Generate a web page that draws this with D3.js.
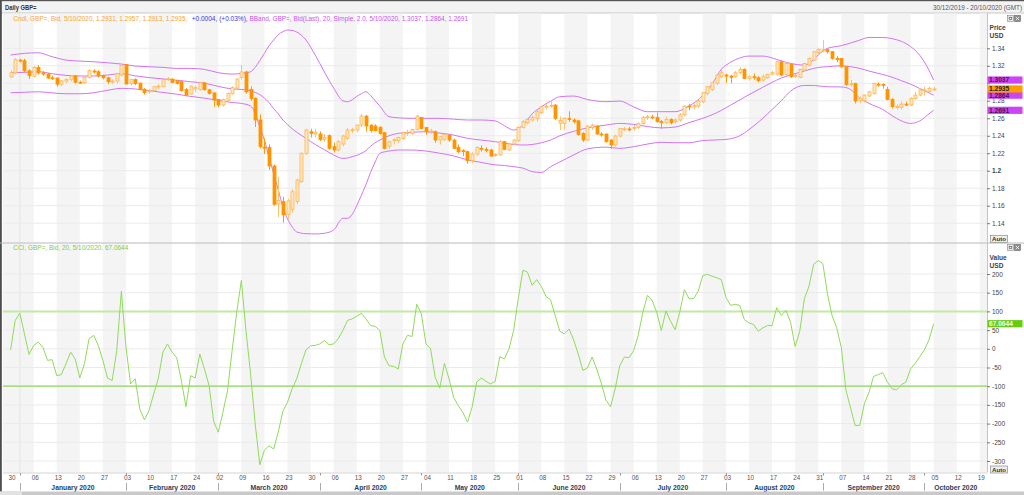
<!DOCTYPE html>
<html><head><meta charset="utf-8">
<script src="https://cdn.jsdelivr.net/npm/d3@7"></script>
<style>html,body{margin:0;padding:0;background:#fff;overflow:hidden}svg{display:block;font-family:"Liberation Sans",Arial,sans-serif}</style>
</head><body><svg id="c" width="1024" height="495"></svg>
<script>
// ---------- DATA (trading-day index 0 = Mon 30/12/2019, weekdays only) ----------
const candleOpen = [1.3072,1.3120,1.3265,1.3258,1.3143,1.3080,1.3180,1.3120,1.3105,1.3062,1.3060,1.2990,1.3025,1.3045,1.3083,1.3012,1.3006,1.3067,1.3140,1.3132,1.3090,1.3063,1.3018,1.3025,1.3095,1.3215,1.2995,1.3042,1.3000,1.2930,1.2905,1.2915,1.2961,1.2965,1.3045,1.3045,1.3029,1.3018,1.2930,1.2877,1.2935,1.2930,1.3005,1.2925,1.2890,1.2816,1.2751,1.2808,1.2884,1.2945,1.3067,1.3130,1.2930,1.2827,1.2580,1.2270,1.2267,1.2054,1.1620,1.1646,1.1500,1.1560,1.1650,1.1875,1.2199,1.2446,1.2420,1.2420,1.2360,1.2401,1.2275,1.2237,1.2305,1.2370,1.2458,1.2465,1.2522,1.2625,1.2522,1.2511,1.2496,1.2435,1.2282,1.2343,1.2343,1.2370,1.2430,1.2427,1.2473,1.2610,1.2496,1.2446,1.2446,1.2351,1.2359,1.2408,1.2351,1.2267,1.2230,1.2218,1.2115,1.2191,1.2256,1.2244,1.2237,1.2180,1.2180,1.2332,1.2237,1.2305,1.2343,1.2496,1.2549,1.2580,1.2599,1.2663,1.2730,1.2740,1.2751,1.2545,1.2541,1.2599,1.2580,1.2570,1.2427,1.2351,1.2496,1.2511,1.2420,1.2420,1.2351,1.2294,1.2397,1.2480,1.2478,1.2484,1.2496,1.2541,1.2610,1.2615,1.2610,1.2561,1.2549,1.2587,1.2561,1.2580,1.2640,1.2740,1.2730,1.2740,1.2789,1.2884,1.2930,1.2999,1.3075,1.3094,1.3083,1.3075,1.3121,1.3159,1.3056,1.3075,1.3063,1.3037,1.3063,1.3105,1.3105,1.3246,1.3102,1.3220,1.3080,1.3067,1.3151,1.3208,1.3265,1.3349,1.3372,1.3385,1.3361,1.3284,1.3284,1.3189,1.2987,1.2999,1.2801,1.2801,1.2854,1.2884,1.2990,1.2985,1.2930,1.2816,1.2732,1.2724,1.2762,1.2751,1.2827,1.2865,1.2923,1.2903,1.2931];
const candleHigh = [1.3145,1.3285,1.3280,1.3280,1.3160,1.3195,1.3210,1.3140,1.3120,1.3085,1.3065,1.3035,1.3055,1.3090,1.3095,1.3030,1.3075,1.3155,1.3160,1.3150,1.3100,1.3075,1.3045,1.3120,1.3215,1.3220,1.3050,1.3055,1.3010,1.2945,1.2935,1.2970,1.2990,1.3060,1.3070,1.3060,1.3040,1.3025,1.2945,1.2975,1.2975,1.3015,1.3012,1.2935,1.2895,1.2820,1.2825,1.2895,1.2965,1.3060,1.3210,1.3140,1.2965,1.2840,1.2645,1.2370,1.2300,1.2070,1.1930,1.1700,1.1680,1.1790,1.1910,1.2210,1.2480,1.2480,1.2480,1.2450,1.2420,1.2415,1.2320,1.2350,1.2410,1.2490,1.2490,1.2530,1.2650,1.2635,1.2530,1.2530,1.2510,1.2440,1.2345,1.2370,1.2390,1.2440,1.2470,1.2480,1.2640,1.2615,1.2500,1.2480,1.2460,1.2400,1.2430,1.2420,1.2365,1.2300,1.2245,1.2230,1.2210,1.2280,1.2290,1.2270,1.2250,1.2200,1.2350,1.2340,1.2320,1.2360,1.2510,1.2580,1.2600,1.2630,1.2690,1.2745,1.2760,1.2810,1.2760,1.2620,1.2610,1.2680,1.2600,1.2580,1.2440,1.2520,1.2540,1.2520,1.2440,1.2425,1.2360,1.2410,1.2490,1.2500,1.2500,1.2520,1.2550,1.2625,1.2640,1.2640,1.2665,1.2580,1.2620,1.2600,1.2600,1.2660,1.2750,1.2765,1.2770,1.2810,1.2900,1.2970,1.3010,1.3100,1.3170,1.3110,1.3095,1.3140,1.3185,1.3170,1.3090,1.3110,1.3080,1.3100,1.3110,1.3140,1.3260,1.3265,1.3240,1.3225,1.3110,1.3165,1.3235,1.3295,1.3370,1.3400,1.3494,1.3400,1.3370,1.3310,1.3290,1.3195,1.3040,1.3005,1.2850,1.2870,1.2910,1.3005,1.3010,1.3000,1.2960,1.2830,1.2760,1.2790,1.2790,1.2840,1.2900,1.2940,1.2960,1.2960,1.2957];
const candleLow = [1.3065,1.3105,1.3240,1.3125,1.3050,1.3070,1.3100,1.3085,1.3050,1.3040,1.2960,1.2970,1.3000,1.3020,1.2995,1.2995,1.2990,1.3055,1.3110,1.3065,1.3045,1.2990,1.2995,1.2995,1.3080,1.2985,1.2975,1.2980,1.2920,1.2870,1.2880,1.2905,1.2935,1.2955,1.3030,1.3000,1.2985,1.2905,1.2850,1.2870,1.2900,1.2915,1.2920,1.2870,1.2730,1.2725,1.2735,1.2790,1.2870,1.2935,1.3040,1.2880,1.2800,1.2500,1.2255,1.2190,1.2010,1.1600,1.1470,1.1406,1.1450,1.1520,1.1620,1.1860,1.2180,1.2380,1.2380,1.2340,1.2330,1.2240,1.2210,1.2220,1.2280,1.2350,1.2430,1.2440,1.2500,1.2446,1.2440,1.2450,1.2410,1.2245,1.2250,1.2300,1.2320,1.2355,1.2400,1.2410,1.2460,1.2470,1.2410,1.2420,1.2320,1.2300,1.2340,1.2330,1.2250,1.2200,1.2165,1.2080,1.2085,1.2170,1.2220,1.2210,1.2160,1.2160,1.2170,1.2235,1.2225,1.2290,1.2330,1.2480,1.2530,1.2560,1.2560,1.2650,1.2700,1.2720,1.2580,1.2465,1.2470,1.2560,1.2540,1.2400,1.2330,1.2340,1.2470,1.2410,1.2390,1.2320,1.2250,1.2280,1.2380,1.2450,1.2450,1.2460,1.2480,1.2530,1.2580,1.2590,1.2550,1.2480,1.2530,1.2530,1.2540,1.2560,1.2620,1.2690,1.2700,1.2720,1.2770,1.2860,1.2910,1.2980,1.3060,1.3005,1.2999,1.3060,1.3100,1.3050,1.3030,1.3040,1.3010,1.3020,1.3050,1.3090,1.3090,1.3080,1.3085,1.3060,1.3060,1.3060,1.3140,1.3190,1.3250,1.3330,1.3355,1.3340,1.3270,1.3240,1.3180,1.2970,1.2960,1.2770,1.2770,1.2780,1.2840,1.2870,1.2960,1.2940,1.2805,1.2710,1.2700,1.2700,1.2740,1.2740,1.2810,1.2850,1.2860,1.2880,1.2913];
const candleClose = [1.3120,1.3270,1.3258,1.3143,1.3086,1.3182,1.3118,1.3105,1.3060,1.3060,1.2990,1.3028,1.3045,1.3083,1.3012,1.3010,1.3067,1.3148,1.3132,1.3083,1.3063,1.3018,1.3025,1.3113,1.3205,1.2992,1.3042,1.2998,1.2930,1.2892,1.2915,1.2961,1.2968,1.3044,1.3052,1.3010,1.2999,1.2915,1.2865,1.2968,1.2950,1.3005,1.2925,1.2885,1.2808,1.2751,1.2816,1.2884,1.2950,1.3050,1.3130,1.2903,1.2827,1.2580,1.2275,1.2265,1.2054,1.1616,1.1660,1.1494,1.1655,1.1760,1.1894,1.2199,1.2465,1.2425,1.2440,1.2359,1.2378,1.2256,1.2237,1.2332,1.2397,1.2465,1.2470,1.2522,1.2625,1.2511,1.2458,1.2458,1.2427,1.2256,1.2332,1.2355,1.2381,1.2435,1.2435,1.2473,1.2625,1.2484,1.2446,1.2456,1.2351,1.2389,1.2416,1.2351,1.2256,1.2218,1.2225,1.2115,1.2191,1.2267,1.2245,1.2235,1.2168,1.2185,1.2332,1.2244,1.2305,1.2351,1.2496,1.2561,1.2587,1.2610,1.2675,1.2732,1.2738,1.2748,1.2599,1.2575,1.2599,1.2585,1.2561,1.2416,1.2351,1.2511,1.2522,1.2420,1.2410,1.2332,1.2294,1.2397,1.2484,1.2480,1.2470,1.2496,1.2541,1.2610,1.2618,1.2612,1.2561,1.2552,1.2587,1.2549,1.2580,1.2640,1.2740,1.2730,1.2745,1.2801,1.2892,1.2961,1.3006,1.3094,1.3121,1.3083,1.3067,1.3121,1.3159,1.3056,1.3075,1.3067,1.3029,1.3075,1.3102,1.3121,1.3246,1.3094,1.3227,1.3075,1.3092,1.3159,1.3227,1.3284,1.3361,1.3387,1.3385,1.3361,1.3284,1.3270,1.3189,1.2987,1.2995,1.2797,1.2827,1.2865,1.2903,1.2999,1.2985,1.2980,1.2816,1.2732,1.2736,1.2762,1.2755,1.2827,1.2865,1.2923,1.2925,1.2942,1.2935];

const bandIdx    = [0,3,6,9,12,15,18,21,24,27,30,33,36,39,42,45,48,50,52,53,54,55,56,57,58,59,60,61,62,64,66,68,70,72,73,74,75,76,77,78,79,80,82,84,87,90,93,96,99,102,105,107,109,111,113,115,117,119,122,125,129,132,135,138,141,144,147,150,152,154,156,158,160,163,165,167,169,172,174,175,177,180,182,184,186,189,191,193,195,197,199,200];
const bandUpper  = [1.3323,1.3342,1.3349,1.3304,1.3265,1.3254,1.3246,1.3235,1.3220,1.3197,1.3189,1.3182,1.3170,1.3170,1.3159,1.3121,1.3105,1.3113,1.3132,1.3182,1.3260,1.3342,1.3430,1.3494,1.3555,1.3590,1.3609,1.3605,1.3586,1.3495,1.3323,1.3129,1.2946,1.2800,1.2789,1.2810,1.2850,1.2880,1.2903,1.2860,1.2800,1.2740,1.2618,1.2605,1.2599,1.2599,1.2599,1.2590,1.2580,1.2580,1.2570,1.2515,1.2465,1.2520,1.2650,1.2730,1.2795,1.2846,1.2854,1.2815,1.2789,1.2797,1.2730,1.2675,1.2675,1.2675,1.2740,1.2860,1.2990,1.3160,1.3240,1.3290,1.3311,1.3311,1.3290,1.3255,1.3227,1.3208,1.3270,1.3323,1.3399,1.3430,1.3460,1.3494,1.3524,1.3524,1.3510,1.3480,1.3420,1.3320,1.3150,1.3037];
const bandMiddle = [1.3120,1.3125,1.3132,1.3110,1.3090,1.3083,1.3083,1.3094,1.3110,1.3085,1.3065,1.3050,1.3035,1.3018,1.3000,1.2965,1.2935,1.2930,1.2915,1.2895,1.2870,1.2830,1.2780,1.2710,1.2650,1.2580,1.2528,1.2480,1.2440,1.2370,1.2300,1.2240,1.2180,1.2141,1.2145,1.2160,1.2175,1.2199,1.2230,1.2280,1.2320,1.2351,1.2400,1.2427,1.2440,1.2446,1.2430,1.2408,1.2370,1.2350,1.2332,1.2315,1.2300,1.2294,1.2300,1.2320,1.2351,1.2400,1.2450,1.2490,1.2522,1.2541,1.2530,1.2505,1.2490,1.2500,1.2550,1.2600,1.2640,1.2690,1.2750,1.2810,1.2870,1.2955,1.3010,1.3060,1.3095,1.3140,1.3170,1.3180,1.3190,1.3200,1.3190,1.3170,1.3140,1.3100,1.3070,1.3030,1.2990,1.2940,1.2890,1.2864];
const bandLower  = [1.2892,1.2897,1.2903,1.2890,1.2880,1.2880,1.2892,1.2920,1.2942,1.2935,1.2915,1.2895,1.2875,1.2850,1.2830,1.2805,1.2780,1.2770,1.2740,1.2656,1.2500,1.2351,1.2150,1.1970,1.1780,1.1589,1.1450,1.1360,1.1300,1.1280,1.1277,1.1285,1.1322,1.1456,1.1456,1.1500,1.1600,1.1720,1.1840,1.1980,1.2100,1.2199,1.2225,1.2237,1.2237,1.2225,1.2200,1.2170,1.2125,1.2095,1.2067,1.2060,1.2046,1.2030,1.1990,1.1980,1.2046,1.2100,1.2180,1.2250,1.2270,1.2256,1.2275,1.2305,1.2325,1.2320,1.2320,1.2345,1.2350,1.2355,1.2365,1.2400,1.2470,1.2600,1.2700,1.2800,1.2910,1.2975,1.2975,1.2970,1.2960,1.2958,1.2930,1.2830,1.2770,1.2700,1.2630,1.2570,1.2541,1.2570,1.2650,1.2691];

const cciValues = [-3,76,95,40,-15,9,18,4,-31,-29,-72,-69,-40,-9,-27,-78,-40,27,36,9,-31,-78,-85,-5,154,4,-94,-80,-161,-190,-165,-121,-80,-9,13,-9,-24,-85,-155,-72,-78,-14,-54,-98,-194,-223,-170,-112,-5,98,183,49,-67,-201,-310,-271,-259,-268,-223,-167,-143,-107,-80,-40,-3,8,9,13,22,11,13,27,49,76,80,87,95,80,62,60,49,-22,-45,-47,-54,13,36,33,119,94,13,0,-76,-105,-39,-80,-130,-152,-170,-196,-156,-89,-78,-87,-94,-87,-21,-27,0,49,134,210,205,170,185,167,140,131,89,47,40,53,24,-14,-58,-51,-22,-54,-92,-137,-155,-107,-45,-22,-24,-5,36,98,143,129,98,49,101,74,51,98,158,134,134,154,196,199,194,190,185,138,116,119,116,78,69,65,47,56,62,62,110,89,103,71,6,47,134,167,226,236,228,147,89,56,4,-110,-158,-205,-205,-147,-116,-74,-69,-64,-89,-107,-110,-96,-89,-54,-39,-21,-3,24,67.0644];
const cciLevels = [100, -100];

const priceTicks = [1.14,1.16,1.18,1.2,1.22,1.24,1.26,1.28,1.30,1.32,1.34];
// the 1.30 label is hidden behind the last-value boxes in the reference
const priceTickLabels = ["1.14","1.16","1.18","1.2","1.22","1.24","1.26","1.28","","1.32","1.34"];
const cciTicks = [200,150,100,50,0,-50,-100,-150,-200,-250,-300];
const cciTickLabels = ["200","150","100","50","0","-50","-100","-150","-200","-250","-300"];
const weekLabels = ["30","06","13","20","27","03","10","17","24","02","09","16","23","30","06","13","20","27","04","11","18","25","01","08","15","22","29","06","13","20","27","03","10","17","24","31","07","14","21","28","05","12","19"];
const monthNames = ["January 2020","February 2020","March 2020","April 2020","May 2020","June 2020","July 2020","August 2020","September 2020","October 2020"];
const monthStartIdx = [2,25,45,67,89,110,132,155,176,198];
const lastValues = {upper:1.3037, close:1.2935, middle:1.2864, lower:1.2691, cci:67.0644};

// ---------- LAYOUT ----------
const svg = d3.select('#c');
const plotL = 3, plotR = 987;
const pTop = 13.5, pBot = 242.5, cTop = 243.5, cBot = 472.5;
const x  = d3.scaleLinear().domain([0,200]).range([10.6,933.6]);
const yP = d3.scaleLinear().domain([1.14,1.34]).range([223.2,48.3]);
const yC = d3.scaleLinear().domain([-300,200]).range([461,274]);

function txt(g, xx, yy, s, o={}) {
  const t = g.append('text').attr('x',xx).attr('y',yy).text(s)
    .attr('font-size', o.size||6.5).attr('fill', o.fill||'#444')
    .attr('font-weight', o.bold?'bold':'normal');
  if (o.anchor) t.attr('text-anchor', o.anchor);
  if (o.len) t.attr('textLength', o.len).attr('lengthAdjust','spacingAndGlyphs');
  return t;
}

// background
svg.append('rect').attr('width',1024).attr('height',495).attr('fill','#fff');
svg.append('rect').attr('x',0).attr('y',0).attr('width',1024).attr('height',13).attr('fill','#f3f3f3');
svg.append('rect').attr('x',0).attr('y',0).attr('width',1024).attr('height',1.2).attr('fill','#555');
svg.append('line').attr('x1',0).attr('x2',1024).attr('y1',13).attr('y2',13).attr('stroke','#c8c8c8');
txt(svg, 5, 9.5, 'Daily GBP=', {size:6.6, bold:true, fill:'#333', len:31.5});
txt(svg, 1022, 9.5, '30/12/2019 - 20/10/2020 (GMT)', {size:6.3, fill:'#555', anchor:'end', len:89});

// panels with weekly stripes
const panels = [{top:pTop, bot:pBot}, {top:cTop, bot:cBot}];
panels.forEach(p => {
  const g = svg.append('g');
  for (let w = 0; w < weekLabels.length; w += 2) {
    const x0 = w === 0 ? plotL : x(5*w);
    const x1 = Math.min(plotR, x(5*w+5));
    g.append('rect').attr('x',x0).attr('y',p.top).attr('width',x1-x0).attr('height',p.bot-p.top).attr('fill','#f4f4f4');
  }
  g.append('line').attr('x1',x(2)).attr('x2',x(2)).attr('y1',p.top).attr('y2',p.bot).attr('stroke','#e4e4e4');
});

// clip paths
const defs = svg.append('defs');
defs.append('clipPath').attr('id','clipP').append('rect').attr('x',plotL).attr('y',pTop).attr('width',plotR-plotL).attr('height',pBot-pTop);
defs.append('clipPath').attr('id','clipC').append('rect').attr('x',plotL).attr('y',cTop).attr('width',plotR-plotL).attr('height',cBot-cTop);

// gridlines
const gp = svg.append('g');
priceTicks.forEach(t => gp.append('line').attr('x1',plotL).attr('x2',plotR).attr('y1',yP(t)).attr('y2',yP(t)).attr('stroke','#ebebeb'));
cciTicks.forEach(t => gp.append('line').attr('x1',plotL).attr('x2',plotR).attr('y1',yC(t)).attr('y2',yC(t)).attr('stroke','#ebebeb'));

// ---------- PRICE PANEL ----------
const pg = svg.append('g').attr('clip-path','url(#clipP)');
const bandLine = d3.line().x((d,i)=>x(bandIdx[i])).y(d=>yP(d)).curve(d3.curveMonotoneX);
[bandUpper, bandMiddle, bandLower].forEach(arr => {
  pg.append('path').attr('d', bandLine(arr)).attr('fill','none').attr('stroke','#d274f2').attr('stroke-width',1);
});
const bw = 3;
candleClose.forEach((c,i) => {
  const o = candleOpen[i], h = candleHigh[i], l = candleLow[i];
  const up = c >= o;
  const cx = Math.round(x(i)) + 0.5;
  pg.append('line').attr('x1',cx).attr('x2',cx).attr('y1',yP(h)).attr('y2',yP(l))
    .attr('stroke', up ? '#ffc170' : '#ff9a10').attr('stroke-width',1);
  const yt = yP(Math.max(o,c)), yb = yP(Math.min(o,c));
  pg.append('rect').attr('x',cx-bw/2).attr('y',yt).attr('width',bw).attr('height',Math.max(1,yb-yt))
    .attr('fill', up ? '#ffe6c2' : '#ff9400')
    .attr('stroke', up ? '#ffb650' : '#ff9400').attr('stroke-width',0.8);
});

// legend line
txt(svg, 13.3, 21, 'Cndl, GBP=, Bid, 5/10/2020, 1.2931, 1.2957, 1.2913, 1.2935,', {fill:'#f7a535', len:174});
txt(svg, 191.7, 21, '+0.0004, (+0.03%),', {fill:'#3a3ae0', len:56});
txt(svg, 249.5, 21, 'BBand, GBP=, Bid(Last),  20, Simple, 2.0, 5/10/2020, 1.3037, 1.2864, 1.2691', {fill:'#c855f0', len:218.5});

// ---------- CCI PANEL ----------
const cg = svg.append('g').attr('clip-path','url(#clipC)');
cg.append('line').attr('x1',plotL).attr('x2',plotR).attr('y1',yC(cciLevels[0])).attr('y2',yC(cciLevels[0])).attr('stroke','#c2eaa6').attr('stroke-width',2);
cg.append('line').attr('x1',plotL).attr('x2',plotR).attr('y1',yC(cciLevels[1])).attr('y2',yC(cciLevels[1])).attr('stroke','#8fd660').attr('stroke-width',1.2);
const cciLine = d3.line().x((d,i)=>x(i)).y(d=>yC(d));
cg.append('path').attr('d', cciLine(cciValues)).attr('fill','none').attr('stroke','#90da5c').attr('stroke-width',1);
txt(svg, 13.3, 250.3, 'CCI, GBP=, Bid,  20, 5/10/2020, 67.0644', {fill:'#84cc38', len:115});

// ---------- SEPARATORS / RIGHT AXES ----------
svg.append('rect').attr('x',0).attr('y',0).attr('width',1.8).attr('height',495).attr('fill','#4d4d4d');
svg.append('line').attr('x1',0).attr('x2',1024).attr('y1',243).attr('y2',243).attr('stroke','#b8b8b8');
svg.append('line').attr('x1',plotR+0.5).attr('x2',plotR+0.5).attr('y1',13).attr('y2',cBot).attr('stroke','#c4c4c4');
svg.append('line').attr('x1',plotL).attr('x2',plotR).attr('y1',cBot+0.5).attr('y2',cBot+0.5).attr('stroke','#d4d4d4');

function styleAxis(g, boldVal) {
  g.select('.domain').remove();
  g.selectAll('.tick line').attr('stroke','#777');
  g.selectAll('.tick text').attr('fill','#444').attr('font-size',6.5)
    .attr('font-family','"Liberation Sans",Arial,sans-serif')
    .attr('font-weight', d => d === boldVal ? 'bold' : 'normal');
}
const axP = svg.append('g').attr('transform',`translate(${plotR},0)`)
  .call(d3.axisRight(yP).tickValues(priceTicks).tickFormat((d,i)=>priceTickLabels[i]).tickSize(3).tickPadding(2));
styleAxis(axP, 1.2);
const axC = svg.append('g').attr('transform',`translate(${plotR},0)`)
  .call(d3.axisRight(yC).tickValues(cciTicks).tickFormat((d,i)=>cciTickLabels[i]).tickSize(3).tickPadding(2));
styleAxis(axC, null);

txt(svg, 989.5, 30, 'Price', {size:6.6, bold:true, fill:'#444'});
txt(svg, 989.5, 38.3, 'USD', {size:6.6, bold:true, fill:'#444'});
txt(svg, 989.5, 260, 'Value', {size:6.6, bold:true, fill:'#444'});
txt(svg, 989.5, 268.3, 'USD', {size:6.6, bold:true, fill:'#444'});

// window icons
function icons(yy) {
  svg.append('rect').attr('x',1007.5).attr('y',yy).attr('width',6).attr('height',6).attr('fill','#e6e6e6').attr('stroke','#888').attr('stroke-width',0.6);
  svg.append('rect').attr('x',1009.2).attr('y',yy+1.8).attr('width',2.6).attr('height',2.2).attr('fill','none').attr('stroke','#555').attr('stroke-width',0.6);
  svg.append('rect').attr('x',1014.5).attr('y',yy).attr('width',6).attr('height',6).attr('fill','#8a8a8a').attr('stroke','#666').attr('stroke-width',0.6);
  svg.append('path').attr('d',`M${1015.8},${yy+1.3}L${1019.2},${yy+4.7}M${1019.2},${yy+1.3}L${1015.8},${yy+4.7}`).attr('stroke','#fff').attr('stroke-width',0.8);
}
icons(15.5); icons(244.5);
function autoBtn(yy) {
  svg.append('rect').attr('x',990.5).attr('y',yy).attr('width',17).attr('height',7).attr('fill','#efefef').attr('stroke','#8a8a8a').attr('stroke-width',0.7);
  txt(svg, 999, yy+5.8, 'Auto', {size:6.2, bold:true, fill:'#333', anchor:'middle', len:14});
}
autoBtn(235.3); autoBtn(466);

// last-value boxes
function valBox(yy, label, fill, tcol) {
  svg.append('rect').attr('x',987.5).attr('y',yy-3.6).attr('width',35).attr('height',7.2).attr('fill',fill);
  txt(svg, 989, yy+2.4, label, {size:6.6, bold:true, fill:tcol});
}
valBox(yP(lastValues.upper), '1.3037', '#cc44f4', '#4a1060');
valBox(yP(lastValues.middle), '1.2864', '#cc44f4', '#4a1060');
valBox(yP(lastValues.lower), '1.2691', '#cc44f4', '#4a1060');
valBox(yP(lastValues.close), '1.2935', '#ff9c00', '#222');
valBox(yC(lastValues.cci), '67.0644', '#66cc11', '#f4ffe8');

// ---------- BOTTOM DATE AXIS ----------
const weekIdx = weekLabels.map((d,w)=>5*w);
const axB = svg.append('g').attr('transform',`translate(1,${cBot})`)
  .call(d3.axisBottom(x).tickValues(weekIdx).tickFormat((d,i)=>weekLabels[i]).tickSize(0).tickPadding(3));
axB.select('.domain').remove();
axB.selectAll('.tick text').attr('fill','#555').attr('font-size',6.3).attr('font-family','"Liberation Sans",Arial,sans-serif');

const mg = svg.append('g');
monthStartIdx.forEach((m,k) => {
  const xm = Math.round(x(m)) + 0.5;
  mg.append('line').attr('x1',xm).attr('x2',xm).attr('y1',cBot+0.5).attr('y2',cBot+3).attr('stroke','#999');
  mg.append('line').attr('x1',xm).attr('x2',xm).attr('y1',483).attr('y2',490.5).attr('stroke','#aaa');
  const xe = k < monthStartIdx.length-1 ? x(monthStartIdx[k+1]) : plotR;
  txt(mg, (x(m)+xe)/2, 489.6, monthNames[k], {size:6.8, bold:true, fill:'#2c3e5a', anchor:'middle'});
});

// bottom scroll bar
svg.append('rect').attr('x',0).attr('y',491.5).attr('width',1024).attr('height',3.5).attr('fill','#c9c9c9');
svg.append('rect').attr('x',0).attr('y',491.5).attr('width',22).attr('height',3.5).attr('fill','#e2e2e2');
</script></body></html>
